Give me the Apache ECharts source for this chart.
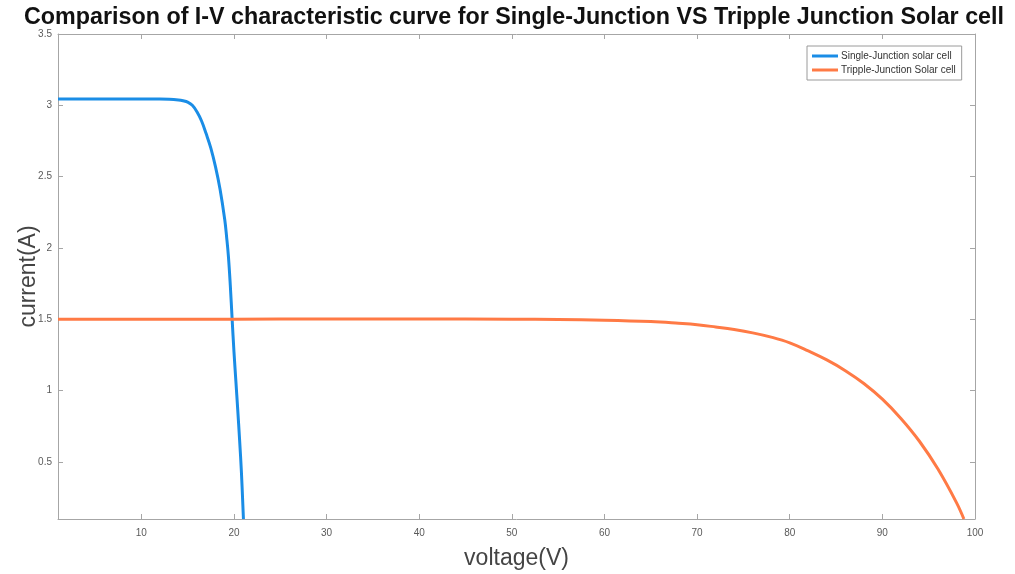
<!DOCTYPE html>
<html>
<head>
<meta charset="utf-8">
<script src="https://cdn.jsdelivr.net/npm/echarts@6/dist/echarts.min.js"></script>
<style>html,body{margin:0;padding:0;background:#fff}#c{width:1015px;height:574px}</style>
</head>
<body>
<div id="c"></div>
<script>
const titleText = 'Comparison of I-V characteristic curve for Single-Junction VS Tripple Junction Solar cell';
const seriesNames = ['Single-Junction solar cell', 'Tripple-Junction Solar cell'];
const xTicks = [10, 20, 30, 40, 50, 60, 70, 80, 90, 100];
const yTicks = [0.5, 1, 1.5, 2, 2.5, 3, 3.5];
const singleV = [1, 5, 10, 12, 13, 14, 14.5, 15, 15.5, 16, 16.5, 17, 17.5, 18, 18.5, 19, 19.2, 19.4, 19.6, 19.8, 20, 20.2, 20.4, 20.6, 20.8, 21.02];
const singleI = [3.044, 3.044, 3.044, 3.044, 3.043, 3.038, 3.032, 3.022, 3.0, 2.955, 2.89, 2.80, 2.70, 2.57, 2.41, 2.20, 2.08, 1.94, 1.74, 1.50, 1.27, 1.07, 0.87, 0.66, 0.43, 0.10];
const tripleV = [1, 10, 20, 30, 40, 50, 55, 60, 65, 68, 70, 72, 74, 76, 78, 80, 82, 84, 86, 88, 90, 92, 94, 96, 98, 98.8];
const tripleI = [1.500, 1.500, 1.501, 1.502, 1.502, 1.501, 1.499, 1.494, 1.484, 1.472, 1.462, 1.446, 1.428, 1.405, 1.375, 1.335, 1.278, 1.215, 1.140, 1.050, 0.940, 0.805, 0.645, 0.450, 0.215, 0.100];

const chart = echarts.init(document.getElementById('c'));
const axisGray = '#a6a6a6';
const labelGray = '#5a5a5a';
const baseX = {min: 1, max: 100, axisLine: {lineStyle: {color: axisGray}}, splitLine: {show: false}};
const baseY = {min: 0.1, max: 3.5, axisLine: {lineStyle: {color: axisGray}}, splitLine: {show: false}};
chart.setOption({
  animation: false,
  title: {text: titleText, left: 509, textAlign: 'center', top: 1,
    textStyle: {fontFamily: 'Liberation Sans', fontWeight: 'bold', fontSize: 23.3, color: '#111'}},
  grid: {left: 58, top: 34, right: 40, bottom: 55, show: false, outerBoundsMode: 'none', containLabel: false},
  legend: {
    data: seriesNames, orient: 'vertical', left: 807, top: 46,
    borderColor: '#9a9a9a', borderWidth: 1, padding: [5, 6, 5, 5], itemGap: 4,
    icon: 'rect', itemWidth: 26, itemHeight: 3,
    textStyle: {fontFamily: 'Liberation Sans', fontSize: 10, color: '#333', padding: [0, 0, 0, -2]}
  },
  xAxis: [
    Object.assign({type: 'value', position: 'bottom', name: 'voltage(V)', nameLocation: 'middle', nameGap: 28,
      nameTextStyle: {fontFamily: 'Liberation Sans', fontSize: 23, color: '#444'},
      axisTick: {inside: true, length: 5, customValues: xTicks, lineStyle: {color: axisGray}},
      axisLabel: {customValues: xTicks, fontFamily: 'Liberation Sans', fontSize: 10, color: labelGray, margin: 9}}, baseX),
    Object.assign({type: 'value', position: 'top', gridIndex: 0,
      axisTick: {inside: true, length: 5, customValues: xTicks, lineStyle: {color: axisGray}},
      axisLabel: {show: false}}, baseX)
  ],
  yAxis: [
    Object.assign({type: 'value', position: 'left', name: 'current(A)', nameLocation: 'middle', nameGap: 18,
      nameMoveOverlap: false,
      nameTextStyle: {fontFamily: 'Liberation Sans', fontSize: 23, color: '#444'},
      axisTick: {inside: true, length: 5, customValues: yTicks, lineStyle: {color: axisGray}},
      axisLabel: {customValues: yTicks, fontFamily: 'Liberation Sans', fontSize: 10, color: labelGray, margin: 6}}, baseY),
    Object.assign({type: 'value', position: 'right',
      axisTick: {inside: true, length: 5, customValues: yTicks, lineStyle: {color: axisGray}},
      axisLabel: {show: false}}, baseY)
  ],
  series: [
    {name: seriesNames[0], type: 'line', xAxisIndex: 0, yAxisIndex: 0, showSymbol: false, smooth: 0.4,
      color: '#1a8de6', lineStyle: {width: 3}, clip: true,
      data: singleV.map((v, i) => [v, singleI[i]])},
    {name: seriesNames[1], type: 'line', xAxisIndex: 0, yAxisIndex: 0, showSymbol: false, smooth: 0.4,
      color: '#ff7a45', lineStyle: {width: 3}, clip: true,
      data: tripleV.map((v, i) => [v, tripleI[i]])}
  ]
});
</script>
</body>
</html>
